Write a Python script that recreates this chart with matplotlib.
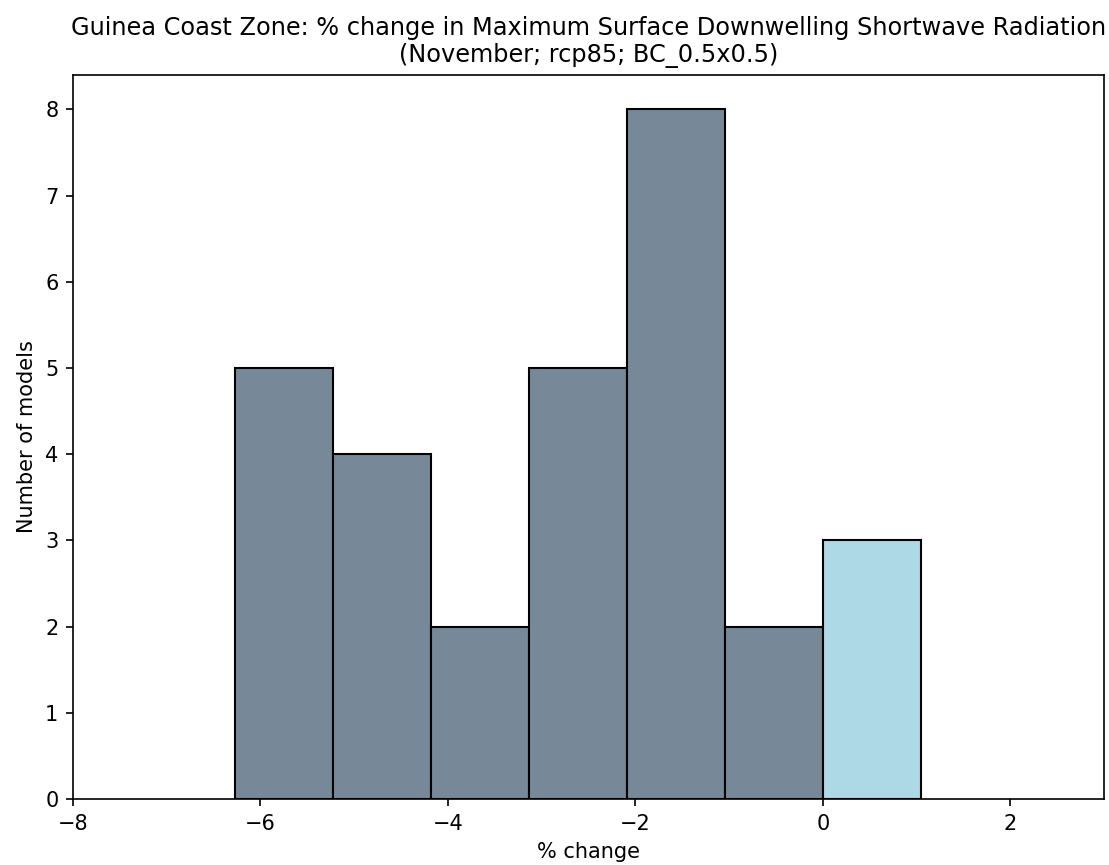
"""Histogram of model % change, Guinea Coast Zone."""

import numpy as np
import matplotlib
import matplotlib.pyplot as plt

matplotlib.use("Agg")

# bin edges (% change) and number of models per bin
bin_edges = [-6.276, -5.230, -4.184, -3.138, -2.092, -1.046, 0.0, 1.046]
counts = [5, 4, 2, 5, 8, 2, 3]

title = ("Guinea Coast Zone: % change in Maximum Surface Downwelling Shortwave Radiation\n"
         "(November; rcp85; BC_0.5x0.5)")

edges = np.array(bin_edges)
widths = np.diff(edges)
lefts = edges[:-1]
colors = ["lightblue" if x >= 0 else "lightslategray" for x in lefts]

fig, ax = plt.subplots(figsize=(1109 / 150, 865 / 150), dpi=150)
fig.subplots_adjust(left=0.0658, right=0.9955, bottom=0.0763, top=0.9133)

ax.bar(lefts, counts, width=widths, align="edge", color=colors,
       edgecolor="black", linewidth=1.0)

ax.set_xlim(-8, 3)
ax.set_ylim(0, 8.4)
ax.set_xticks([-8, -6, -4, -2, 0, 2])
ax.set_yticks(range(0, 9))
ax.set_title(title, fontsize=11.5)
ax.set_xlabel("% change")
ax.set_ylabel("Number of models")

fig.savefig("out.png", dpi=150)
